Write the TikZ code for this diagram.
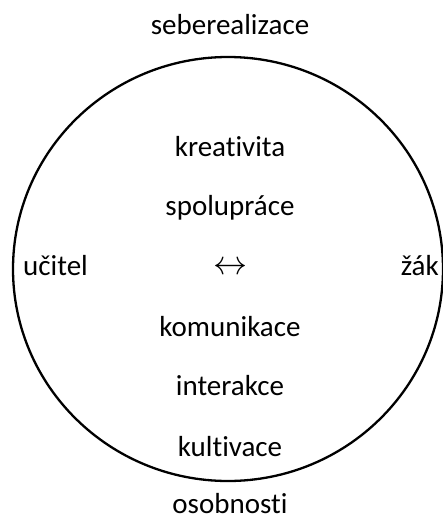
\documentclass[tikz,border=0pt]{standalone}
\usepackage{fontspec}
\setmainfont[Ligatures=NoCommon]{Carlito}
\usetikzlibrary{positioning}

\begin{document}
\begin{tikzpicture}[x=1pt,y=-1pt,
word/.style={inner sep=0pt,anchor=base,font=\fontsize{29}{35}\selectfont},
ring/.style={line width=2.3pt}]
\useasboundingbox (0,0) rectangle (443,519);
\draw[ring] (228,269) ellipse [x radius=215,y radius=212];
\node[word] (top) at (230,35) {seberealizace};
\node[word] (kre) at (230,156) {kreativita};
\node[word] (spo) at (230,215) {spolupráce};
\node[word,anchor=center] (arr) at (230,268) {\resizebox{34pt}{!}{$\leftrightarrow$}};
\node[word,anchor=base west] (uci) at (23,275) {učitel};
\node[word,anchor=base east] (zak) at (439,275) {žák};
\node[word] (kom) at (230,336) {komunikace};
\node[word] (int) at (230,395) {interakce};
\node[word] (kul) at (230,456) {kultivace};
\node[word] (oso) at (230,513) {osobnosti};
\end{tikzpicture}
\end{document}
